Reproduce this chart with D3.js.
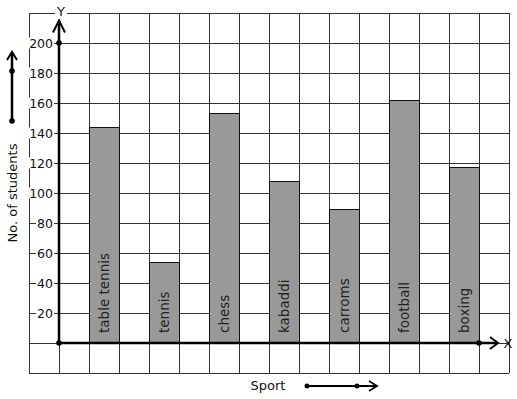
<!DOCTYPE html>
<html><head><meta charset="utf-8">
<script src="https://cdn.jsdelivr.net/npm/d3@7"></script>
<style>body{margin:0;background:#fff}svg{display:block}text{font-family:"DejaVu Sans",sans-serif}</style>
</head><body>
<svg id="c" width="517" height="399"></svg>
<script>
const categories = ["table tennis","tennis","chess","kabaddi","carroms","football","boxing"];
const students = [144, 54, 153, 108, 89, 162, 117];
const yTicks = [20,40,60,80,100,120,140,160,180,200];
const yLabel = "No. of students";
const xLabel = "Sport";

const svg = d3.select("#c");
const y = d3.scaleLinear().domain([0,200]).range([343,43]);
const x = d3.scaleBand().domain(categories).range([59,509]).paddingInner(0.5).paddingOuter(0.5);
const gx = d3.scaleLinear().domain([-1,15]).range([29,509]);

// grid
const grid = svg.append("g").attr("stroke","#333").attr("stroke-width",1).attr("shape-rendering","crispEdges");
grid.selectAll(".v").data(d3.range(-1,16)).join("line")
  .attr("x1",d=>gx(d)).attr("x2",d=>gx(d)).attr("y1",y(220)).attr("y2",y(-20));
grid.selectAll(".h").data(d3.range(-20,221,20)).join("line")
  .attr("y1",d=>y(d)).attr("y2",d=>y(d)).attr("x1",gx(-1)).attr("x2",gx(15));

// bars
svg.append("g").selectAll("rect").data(categories).join("rect")
  .attr("x",d=>x(d)).attr("width",x.bandwidth())
  .attr("y",(d,i)=>y(students[i])).attr("height",(d,i)=>y(0)-y(students[i]))
  .attr("fill","#999").attr("stroke","#111").attr("stroke-width",1).attr("shape-rendering","crispEdges");

// bar labels
svg.append("g").selectAll("text").data(categories).join("text")
  .attr("transform",d=>`translate(${x(d)+x.bandwidth()/2+5},333) rotate(-90)`)
  .attr("font-size",13.5).attr("fill","#222").text(d=>d);

// y tick labels via axis
const ax = svg.append("g").attr("transform","translate(59,0)")
  .call(d3.axisLeft(y).tickValues(yTicks).tickSize(0).tickPadding(6).tickFormat(d3.format("d")));
ax.select(".domain").remove();
ax.selectAll(".tick text").attr("font-size",12.5).attr("fill","#111").attr("font-family","DejaVu Sans");
ax.selectAll(".tick").each(function(){
  const t = d3.select(this).select("text");
  const b = t.node().getBBox();
  d3.select(this).insert("rect","text").attr("x",b.x-1).attr("y",b.y+2).attr("width",b.width+2).attr("height",b.height-4).attr("fill","#fff");
});

// axes
const axes = svg.append("g").attr("stroke","#000").attr("fill","none").attr("stroke-width",2.5);
axes.append("line").attr("x1",59).attr("x2",59).attr("y1",y(0)).attr("y2",y(213));
axes.append("path").attr("d",`M53,${y(207)} L59,${y(215)} L65,${y(207)}`).attr("stroke-width",2);
axes.append("line").attr("x1",59).attr("x2",497).attr("y1",y(0)).attr("y2",y(0));
axes.append("path").attr("d",`M490,${y(0)-6} L498,${y(0)} L490,${y(0)+6}`).attr("stroke-width",2);
svg.append("g").selectAll("circle").data([[59,y(0)],[59,y(200)],[479,y(0)]]).join("circle")
  .attr("cx",d=>d[0]).attr("cy",d=>d[1]).attr("r",2.8).attr("fill","#000");

// axis letters
svg.append("rect").attr("x",55).attr("y",5).attr("width",12).attr("height",14).attr("fill","#fff");
svg.append("text").attr("x",61).attr("y",16).attr("text-anchor","middle").attr("font-size",13).attr("fill","#111").text("Y");
svg.append("text").attr("x",508).attr("y",348).attr("text-anchor","middle").attr("font-size",13).attr("fill","#111").text("X");

// y label with arrow
svg.append("text").attr("transform","translate(17,193) rotate(-90)").attr("text-anchor","middle")
  .attr("font-size",13).attr("fill","#111").text(yLabel);
const la = svg.append("g").attr("stroke","#000").attr("fill","none");
la.append("line").attr("x1",12).attr("x2",12).attr("y1",121).attr("y2",53).attr("stroke-width",2.5);
la.append("path").attr("d","M7,60 L12,52 L17,60").attr("stroke-width",2);
svg.append("g").selectAll("circle").data([[12,71],[12,121]]).join("circle")
  .attr("cx",d=>d[0]).attr("cy",d=>d[1]).attr("r",2.8).attr("fill","#000");

// x label with arrow
svg.append("text").attr("x",268).attr("y",390).attr("text-anchor","middle").attr("font-size",13).attr("fill","#111").text(xLabel);
const xa = svg.append("g").attr("stroke","#000").attr("fill","none");
xa.append("line").attr("x1",307).attr("x2",376).attr("y1",386).attr("y2",386).attr("stroke-width",2);
xa.append("path").attr("d","M369,381 L377,386 L369,391").attr("stroke-width",1.8);
svg.append("g").selectAll("circle").data([[307,386],[357,386]]).join("circle")
  .attr("cx",d=>d[0]).attr("cy",d=>d[1]).attr("r",2.5).attr("fill","#000");
</script>
</body></html>
